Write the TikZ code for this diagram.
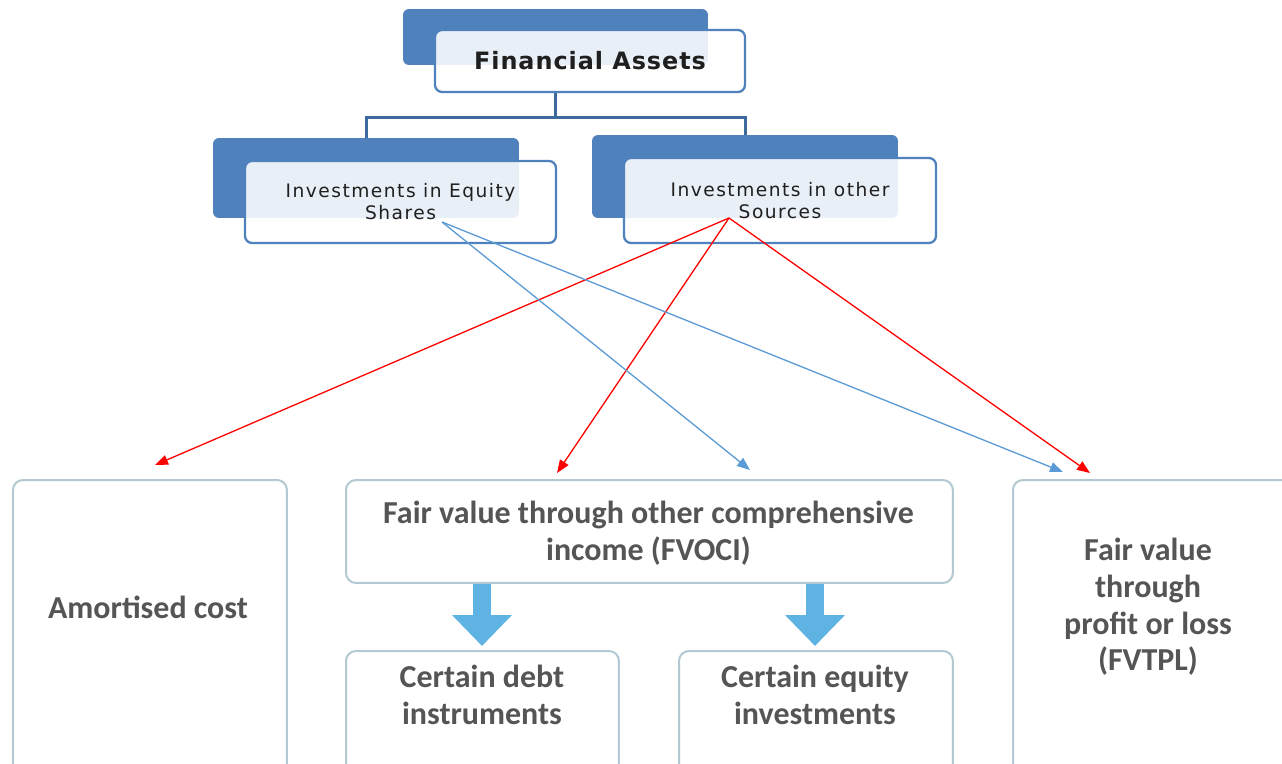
\documentclass[tikz,border=0pt]{standalone}
\usepackage{fontspec}
\usetikzlibrary{arrows.meta,calc}
\newfontfamily\topfont[LetterSpace=8]{DejaVu Sans}
\newfontfamily\titlefont[LetterSpace=4]{DejaVu Sans}
\newfontfamily\lowfont{Carlito}
\definecolor{officeblue}{HTML}{4F81BD}
\definecolor{treeblue}{HTML}{3D6A9C}
\definecolor{linkblue}{HTML}{5B9BD5}
\definecolor{pale}{HTML}{B3C9D2}
\definecolor{blockblue}{HTML}{5EB3E2}
\definecolor{textgray}{HTML}{555555}
\begin{document}
\begin{tikzpicture}[x=0.02cm,y=-0.02cm,
  backbox/.style={fill=officeblue,rounded corners=0.12cm,inner sep=0pt},
  frontbox/.style={draw=officeblue,line width=0.045cm,fill=white,fill opacity=0.88,text opacity=1,
    rounded corners=0.14cm,inner sep=0pt,align=center,font=\topfont\fontsize{10.6}{12.5}\selectfont,text=black!88},
  tree/.style={draw=treeblue,line width=0.06cm},
  redlink/.style={draw=red,line width=0.026cm,-{Triangle[length=0.26cm,width=0.2cm]}},
  bluelink/.style={draw=linkblue,line width=0.026cm,-{Triangle[length=0.26cm,width=0.2cm]}},
  lowbox/.style={draw=pale,line width=0.04cm,fill=white,rounded corners=0.2cm,inner sep=0pt},
  lowtext/.style={align=center,font=\lowfont\bfseries\fontsize{18.2}{20.8}\selectfont,text=textgray,inner sep=0pt},
  block/.style={draw=blockblue,line width=0.36cm,shorten >=0.08cm,-{Triangle[width=1.16cm,length=0.62cm]}}
]
\clip (0,0) rectangle (1282,764);
\fill[white] (0,0) rectangle (1282,764);

% top level
\node[backbox,minimum width=6.1cm,minimum height=1.12cm] (fab) at (555.5,37) {};
\node[frontbox,minimum width=6.2cm,minimum height=1.24cm,font=\titlefont\bfseries\fontsize{13.6}{15}\selectfont] (fa) at (590,61) {Financial Assets};

% second level
\node[backbox,minimum width=6.12cm,minimum height=1.6cm] (eqb) at (366,178) {};
\node[frontbox,minimum width=6.22cm,minimum height=1.64cm] (eq) at (400.5,202) {Investments in Equity\\Shares};
\node[backbox,minimum width=6.12cm,minimum height=1.66cm] (othb) at (745,176.5) {};
\node[frontbox,minimum width=6.24cm,minimum height=1.7cm] (oth) at (780,200.5) {Investments in other\\Sources};

% tree connectors
\coordinate (mid) at (555.5,117);
\draw[tree] (fab |- fa.south) -- (mid) -| (eqb.north);
\draw[tree] (mid) -| (othb.north);

% bottom boxes
\node[lowbox,minimum width=5.48cm,minimum height=6.2cm,anchor=north west] (am) at (12,479) {};
\node[lowtext] (amt) at (148,607) {Amortised cost};
\node[lowbox,minimum width=12.14cm,minimum height=2.06cm,anchor=north west] (fvoci) at (345,479) {};
\node[lowtext] (fvocit) at (648.5,533) {Fair value through other comprehensive\\income (FVOCI)};
\node[lowbox,minimum width=5.46cm,minimum height=3cm,anchor=north west] (debt) at (345,650) {};
\node[lowtext] (debtt) at (482,695) {Certain debt\\instruments};
\node[lowbox,minimum width=5.48cm,minimum height=3cm,anchor=north west] (eqi) at (678,650) {};
\node[lowtext] (eqit) at (815,695) {Certain equity\\investments};
\node[lowbox,minimum width=6cm,minimum height=6.2cm,anchor=north west] (fvtpl) at (1012,479) {};
\node[lowtext] (fvtplt) at (1148,607) {Fair value\\through\\profit or loss\\(FVTPL)};

% block arrows
\draw[block] (debtt |- fvoci.south) -- (debtt |- debt.north);
\draw[block] (eqit |- fvoci.south) -- (eqit |- eqi.north);

% link targets
\coordinate (srcR) at (729,218);
\coordinate (srcB) at (442,222);
\coordinate (tAm) at (155,465);
\coordinate (tFvociR) at (557,473);
\coordinate (tFvociB) at (750,470);
\coordinate (tFvtplB) at (1063,472);
\coordinate (tFvtplR) at (1090,473);

\draw[redlink] (srcR) -- (tAm);
\draw[redlink] (srcR) -- (tFvociR);
\draw[redlink] (srcR) -- (tFvtplR);
\draw[bluelink] (srcB) -- (tFvociB);
\draw[bluelink] (srcB) -- (tFvtplB);
\end{tikzpicture}
\end{document}
